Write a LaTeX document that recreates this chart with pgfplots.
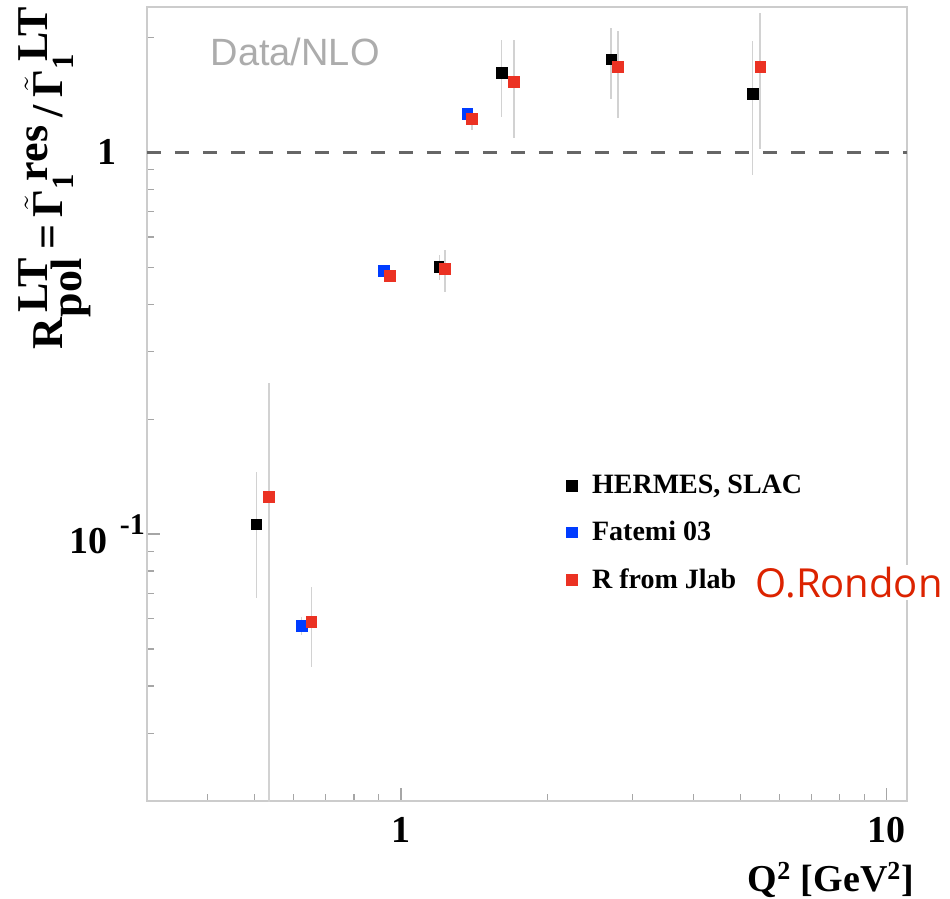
\documentclass[border=0pt]{standalone}
\usepackage{pgfplots}
\pgfplotsset{compat=1.18}
\usepackage{pgfplotstable}
\usepackage{fontspec}
\setmainfont{Liberation Serif}
\newfontfamily\datafont{Liberation Sans}
\newfontfamily\rondonfont{Open Sans}
\definecolor{jred}{RGB}{235,50,35}
\definecolor{fblue}{RGB}{0,60,255}
\definecolor{rred}{RGB}{220,35,0}

\pgfplotstableread{
x y ep em
0.504 0.106 0.039 0.038
1.20 0.50 0.038 0.037
1.61 1.61 0.36 0.37
2.71 1.75 0.36 0.37
5.29 1.42 0.53 0.55
}\hermes
\pgfplotstableread{
x y ep em
0.624 0.0575 0.003 0.003
0.923 0.489 0.010 0.010
1.37 1.26 0.02 0.02
}\fatemi
\pgfplotstableread{
x y ep em
0.534 0.125 0.124 0.12
0.654 0.0589 0.0138 0.0139
0.95 0.474 0.010 0.012
1.23 0.495 0.060 0.065
1.40 1.22 0.05 0.08
1.71 1.53 0.44 0.44
2.80 1.67 0.41 0.44
5.49 1.67 0.64 0.65
}\jlab

\newcommand{\tGam}{\ensuremath{\tilde{\hbox{\bfseries Γ}}}}

\begin{document}
\begin{tikzpicture}
\begin{axis}[name=ax, scale only axis, width=380pt, height=397pt,
  xmode=log, ymode=log, xmin=0.3, xmax=11, ymin=0.02, ymax=2.4,
  xtick={1,10}, xticklabels={1,10},
  ytick={0.1,1}, yticklabels={10\,\,\raisebox{0.5em}{\fontsize{15}{18}\selectfont -1},1},
  minor xtick={0.4,0.5,0.6,0.7,0.8,0.9,2,3,4,5,6,7,8,9},
  minor ytick={0.03,0.04,0.05,0.06,0.07,0.08,0.09,0.2,0.3,0.4,0.5,0.6,0.7,0.8,0.9,2},
  tick align=inside, xtick pos=bottom, ytick pos=left,
  major tick length=6.5pt, minor tick length=3.5pt,
  every tick/.style={gray!70, line width=0.6pt},
  axis line style={gray!40, line width=1pt},
  tick label style={font=\fontsize{19}{22}\selectfont\bfseries},
  xticklabel style={anchor=center, yshift=-14.5pt},
  yticklabel style={anchor=center, xshift=-20pt},
  xlabel={Q$^{\hbox{\fontsize{13}{15}\selectfont\bfseries 2}}$\ [GeV$^{\hbox{\fontsize{13}{15}\selectfont\bfseries 2}}$]},
  xlabel style={font=\fontsize{19}{22}\selectfont\bfseries, at={(axis description cs:0.9,0)}, anchor=center, yshift=-39.5pt},
  ylabel={R$^{\,\textbf{LT}}_{\textbf{pol}}$\,=\,\tGam$_{\mathbf{1}}^{\;\textbf{res}}$\,/\,\tGam$_{\mathbf{1}}^{\;\textbf{LT}}$},
  ylabel style={font=\fontsize{22}{26}\selectfont\bfseries, at={(axis description cs:-0.121,0.785)}, anchor=center},
  clip mode=individual,
  legend style={draw=none, fill=none, at={(axis description cs:0.542,0.421)}, anchor=north west,
    font=\fontsize{14}{17}\selectfont\bfseries, row sep=8.3pt},
  legend cell align=left,
  legend image code/.code={\draw[#1] plot coordinates {(0pt,0pt)}; \path (-3pt,0pt) (8pt,0pt);},
  error bars/error bar style={line width=0.9pt, draw=gray!35},
  error bars/error mark=none,
]
\addplot[black!60, dash pattern=on 7pt off 7pt, line width=1.6pt, forget plot] coordinates {(0.3,1) (11,1)};
\addplot[only marks, mark=square*, mark size=2.7pt, color=black, mark options={fill=black, draw=black},
  error bars/.cd, y dir=both, y explicit]
  table[x=x, y=y, y error plus=ep, y error minus=em] {\hermes};
\addlegendentry{HERMES, SLAC}
\addplot[only marks, mark=square*, mark size=2.7pt, color=fblue, mark options={fill=fblue, draw=fblue},
  error bars/.cd, y dir=both, y explicit]
  table[x=x, y=y, y error plus=ep, y error minus=em] {\fatemi};
\addlegendentry{Fatemi 03}
\addplot[only marks, mark=square*, mark size=2.7pt, color=jred, mark options={fill=jred, draw=jred},
  error bars/.cd, y dir=both, y explicit]
  table[x=x, y=y, y error plus=ep, y error minus=em] {\jlab};
\addlegendentry{R from Jlab}
\node[font=\datafont\fontsize{19}{22}\selectfont, text=gray!65] at (axis description cs:0.195,0.943) {Data/NLO};
\node[font=\rondonfont\fontsize{20}{24}\selectfont, text=rred, fill=white, inner sep=1pt] at (axis description cs:0.924,0.275) {O.Rondon};
\end{axis}
\pgfresetboundingbox
\path ([shift={(-73.5pt,-48.5pt)}]ax.south west) rectangle ([shift={(21.5pt,3.5pt)}]ax.north east);
\end{tikzpicture}
\end{document}
